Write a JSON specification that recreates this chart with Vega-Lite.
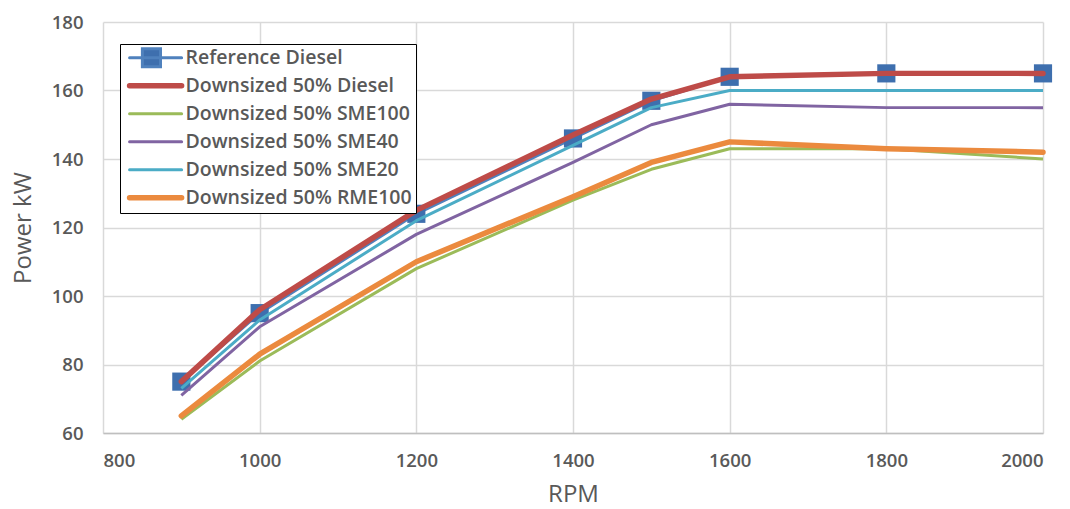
{
  "$schema": "https://vega.github.io/schema/vega-lite/v6.json",
  "width": 940,
  "height": 411,
  "autosize": "none",
  "padding": {"left": 103, "top": 22, "right": 27, "bottom": 76},
  "background": "white",
  "data": {
    "values": [
      {"series": "Reference Diesel", "rpm": 900, "power": 75},
      {"series": "Reference Diesel", "rpm": 1000, "power": 95},
      {"series": "Reference Diesel", "rpm": 1200, "power": 124},
      {"series": "Reference Diesel", "rpm": 1400, "power": 146},
      {"series": "Reference Diesel", "rpm": 1500, "power": 157},
      {"series": "Reference Diesel", "rpm": 1600, "power": 164},
      {"series": "Reference Diesel", "rpm": 1800, "power": 165},
      {"series": "Reference Diesel", "rpm": 2000, "power": 165},
      {"series": "Downsized 50% SME100", "rpm": 900, "power": 64},
      {"series": "Downsized 50% SME100", "rpm": 1000, "power": 81},
      {"series": "Downsized 50% SME100", "rpm": 1200, "power": 108},
      {"series": "Downsized 50% SME100", "rpm": 1400, "power": 128},
      {"series": "Downsized 50% SME100", "rpm": 1500, "power": 137},
      {"series": "Downsized 50% SME100", "rpm": 1600, "power": 143},
      {"series": "Downsized 50% SME100", "rpm": 1800, "power": 143},
      {"series": "Downsized 50% SME100", "rpm": 2000, "power": 140},
      {"series": "Downsized 50% SME40", "rpm": 900, "power": 71},
      {"series": "Downsized 50% SME40", "rpm": 1000, "power": 91},
      {"series": "Downsized 50% SME40", "rpm": 1200, "power": 118},
      {"series": "Downsized 50% SME40", "rpm": 1400, "power": 139},
      {"series": "Downsized 50% SME40", "rpm": 1500, "power": 150},
      {"series": "Downsized 50% SME40", "rpm": 1600, "power": 156},
      {"series": "Downsized 50% SME40", "rpm": 1800, "power": 155},
      {"series": "Downsized 50% SME40", "rpm": 2000, "power": 155},
      {"series": "Downsized 50% SME20", "rpm": 900, "power": 73},
      {"series": "Downsized 50% SME20", "rpm": 1000, "power": 93},
      {"series": "Downsized 50% SME20", "rpm": 1200, "power": 122},
      {"series": "Downsized 50% SME20", "rpm": 1400, "power": 144},
      {"series": "Downsized 50% SME20", "rpm": 1500, "power": 155},
      {"series": "Downsized 50% SME20", "rpm": 1600, "power": 160},
      {"series": "Downsized 50% SME20", "rpm": 1800, "power": 160},
      {"series": "Downsized 50% SME20", "rpm": 2000, "power": 160},
      {"series": "Downsized 50% Diesel", "rpm": 900, "power": 75},
      {"series": "Downsized 50% Diesel", "rpm": 1000, "power": 96},
      {"series": "Downsized 50% Diesel", "rpm": 1200, "power": 125},
      {"series": "Downsized 50% Diesel", "rpm": 1400, "power": 147},
      {"series": "Downsized 50% Diesel", "rpm": 1500, "power": 157.5},
      {"series": "Downsized 50% Diesel", "rpm": 1600, "power": 164},
      {"series": "Downsized 50% Diesel", "rpm": 1800, "power": 165},
      {"series": "Downsized 50% Diesel", "rpm": 2000, "power": 165},
      {"series": "Downsized 50% RME100", "rpm": 900, "power": 65},
      {"series": "Downsized 50% RME100", "rpm": 1000, "power": 83},
      {"series": "Downsized 50% RME100", "rpm": 1200, "power": 110},
      {"series": "Downsized 50% RME100", "rpm": 1400, "power": 129},
      {"series": "Downsized 50% RME100", "rpm": 1500, "power": 139},
      {"series": "Downsized 50% RME100", "rpm": 1600, "power": 145},
      {"series": "Downsized 50% RME100", "rpm": 1800, "power": 143},
      {"series": "Downsized 50% RME100", "rpm": 2000, "power": 142}
    ]
  },
  "encoding": {
    "x": {
      "field": "rpm", "type": "quantitative",
      "scale": {"domain": [800, 2000], "nice": false, "zero": false},
      "axis": {"values": [800, 1000, 1200, 1400, 1600, 1800, 2000], "format": "d", "title": "RPM",
        "domain": true, "domainColor": "#BFBFBF", "domainWidth": 1.5, "ticks": false,
        "labelPadding": 18, "titlePadding": 13, "titleFontSize": 24}
    },
    "y": {
      "field": "power", "type": "quantitative",
      "scale": {"domain": [60, 180], "nice": false, "zero": false},
      "axis": {"values": [60, 80, 100, 120, 140, 160, 180], "title": "Power kW",
        "domain": false, "ticks": false, "labelPadding": 20, "titlePadding": 16, "titleFontSize": 24}
    },
    "color": {
      "field": "series", "type": "nominal",
      "scale": {
        "domain": ["Reference Diesel", "Downsized 50% Diesel", "Downsized 50% SME100", "Downsized 50% SME40", "Downsized 50% SME20", "Downsized 50% RME100"],
        "range": ["#4F81BD", "#BE4B48", "#9BBB59", "#8064A2", "#4BACC6", "#EB8A3E"]
      },
      "legend": {
        "orient": "none", "legendX": 17, "legendY": 22, "title": null,
        "strokeColor": "#000000", "fillColor": "#FFFFFF", "padding": 4,
        "symbolSize": 433, "rowPadding": 1, "labelLimit": 0, "gridAlign": "all",
        "labelFont": "Open Sans", "labelFontSize": 19.5, "labelFontWeight": 600, "labelColor": "#595959",
        "labelOffset": 42,
        "encode": {
          "symbols": {
            "update": {
              "shape": {"signal": "datum.value === 'Reference Diesel' ? 'M-0.4,0H4.6M0.83,-0.87H2.57V0.87H0.83Z' : 'M-0.4,0H4.6'"},
              "strokeWidth": {"signal": "(datum.value === 'Downsized 50% Diesel' || datum.value === 'Downsized 50% RME100') ? 5.5 : 3"},
              "fill": {"signal": "datum.value === 'Reference Diesel' ? '#3E6FAE' : 'transparent'"},
              "strokeCap": {"value": "round"}
            }
          }
        }
      }
    }
  },
  "layer": [
    {
      "transform": [{"filter": "datum.series === 'Reference Diesel'"}],
      "mark": {"type": "line", "strokeWidth": 3}
    },
    {
      "transform": [{"filter": "datum.series === 'Reference Diesel'"}],
      "mark": {"type": "point", "shape": "square", "filled": true, "size": 330, "opacity": 1, "color": "#3E6FAE"},
      "encoding": {"color": {"value": "#3E6FAE"}}
    },
    {
      "transform": [{"filter": "datum.series === 'Downsized 50% SME100' || datum.series === 'Downsized 50% SME40' || datum.series === 'Downsized 50% SME20'"}],
      "mark": {"type": "line", "strokeWidth": 3, "strokeJoin": "round"}
    },
    {
      "transform": [{"filter": "datum.series === 'Downsized 50% Diesel' || datum.series === 'Downsized 50% RME100'"}],
      "mark": {"type": "line", "strokeWidth": 5.5, "strokeJoin": "round", "strokeCap": "round"}
    }
  ],
  "config": {
    "view": {"stroke": null},
    "font": "Open Sans",
    "axis": {
      "grid": true, "gridColor": "#D9D9D9", "gridWidth": 1.5,
      "labelFont": "Open Sans", "labelFontSize": 18.5, "labelFontWeight": 600, "labelColor": "#595959",
      "titleFont": "Open Sans", "titleFontWeight": "normal", "titleColor": "#595959"
    }
  }
}
